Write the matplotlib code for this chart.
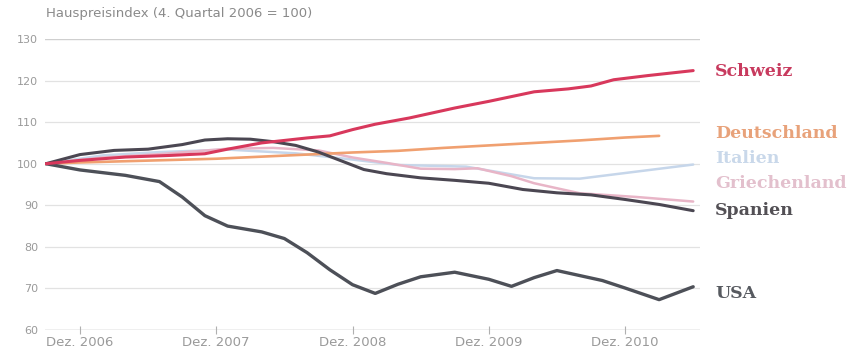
import matplotlib
matplotlib.use("Agg")
import matplotlib.pyplot as plt
import matplotlib.transforms as mtransforms

# x = months relative to Dez. 2006, y = Hauspreisindex (Q4 2006 = 100)
TICK_MONTHS = [0, 12, 24, 36, 48]
TICK_LABELS = ["Dez. 2006", "Dez. 2007", "Dez. 2008", "Dez. 2009", "Dez. 2010"]
Y_TICKS = [60, 70, 80, 90, 100, 110, 120, 130]

italien_m = [-3, 2, 7, 13, 19, 24, 28, 34, 40, 44, 49, 54]
italien_v = [100, 102, 102.8, 103.4, 102.5, 101, 99.7, 99.3, 96.5, 96.4, 98.1, 99.8]

griechenland_m = [-3, 2, 7, 13, 17, 21, 24, 27, 30, 33, 35, 38, 40, 44, 49, 54]
griechenland_v = [100, 101.5, 102.3, 103.6, 103.8, 103.2, 101.5, 100.2, 98.8, 98.7, 98.9, 97.0, 95.3, 92.9, 92.0, 90.9]

deutschland_m = [-3, 0, 4, 8, 12, 16, 20, 24, 28, 32, 36, 40, 44, 48, 51]
deutschland_v = [100, 100.3, 100.6, 100.9, 101.2, 101.7, 102.2, 102.7, 103.1, 103.8, 104.4, 105.0, 105.6, 106.3, 106.7]

spanien_m = [-3, 0, 3, 6, 9, 11, 13, 15, 17, 19, 21, 23, 25, 27, 30, 33, 36, 39, 42, 45, 48, 51, 54]
spanien_v = [100, 102.2, 103.2, 103.5, 104.6, 105.7, 106, 105.9, 105.3, 104.4, 102.8, 100.7, 98.6,
             97.6, 96.6, 96.0, 95.3, 93.8, 93.0, 92.5, 91.4, 90.2, 88.7]

usa_m = [-3, 0, 4, 7, 9, 11, 13, 16, 18, 20, 22, 24, 26, 28, 30, 33, 36, 38, 40, 42, 44, 46, 48, 51, 54]
usa_v = [100, 98.5, 97.2, 95.7, 92, 87.5, 85, 83.6, 82, 78.6, 74.5, 70.9, 68.8, 71, 72.8, 73.9,
         72.2, 70.5, 72.6, 74.3, 73.1, 71.9, 70.1, 67.3, 70.4]

schweiz_m = [-3, 0, 4, 8, 11, 13, 16, 20, 22, 24, 26, 29, 33, 36, 40, 43, 45, 47, 50, 54]
schweiz_v = [100, 100.8, 101.6, 102, 102.4, 103.5, 105, 106.2, 106.7, 108.2, 109.5, 111, 113.4,
             115, 117.3, 118, 118.7, 120.2, 121.2, 122.4]

# (name, months, values, line colour, label colour, linewidth, label y)
SERIES = [
    ("Italien", italien_m, italien_v, "#c6d6ea", "#c9d8ea", 1.8, 101.3),
    ("Griechenland", griechenland_m, griechenland_v, "#e8b5c7", "#e3c0cd", 1.8, 95.2),
    ("Deutschland", deutschland_m, deutschland_v, "#f0a070", "#e8a27a", 1.9, 107.3),
    ("Spanien", spanien_m, spanien_v, "#4b4752", "#535055", 2.2, 88.8),
    ("USA", usa_m, usa_v, "#4d5058", "#575a60", 2.4, 68.9),
    ("Schweiz", schweiz_m, schweiz_v, "#d8385c", "#c83a5e", 2.2, 122.2),
]

fig = plt.figure(figsize=(8.66, 3.56), dpi=100)
ax = fig.add_axes([45 / 866, 26 / 356, 655 / 866, 291 / 356])
ax.set_xlim(-3.08, 54.6)
ax.set_ylim(60, 130)

for y in Y_TICKS[1:]:
    ax.axhline(y, color="#e2e2e2", lw=0.9, zorder=0)
ax.axhline(130, color="#cfcfcf", lw=0.9, zorder=0)
ax.axhline(60, color="#b0b0b0", lw=1.0, zorder=1)

lbl_tr = mtransforms.blended_transform_factory(ax.transAxes, ax.transData)
for name, m, v, col, lcol, lw, ly in SERIES:
    ax.plot(m, v, color=col, lw=lw, solid_capstyle="round", solid_joinstyle="round", zorder=3)
    ax.text(1.023, ly, name, transform=lbl_tr, color=lcol, fontsize=12.5,
            family="DejaVu Serif", fontweight="bold", va="center", ha="left", clip_on=False)

for s in ax.spines.values():
    s.set_visible(False)

ax.set_xticks(TICK_MONTHS)
ax.set_xticklabels(TICK_LABELS, fontsize=9.5, color="#9a9a9a")
ax.tick_params(axis="x", direction="inout", length=6, width=0.8, color="#b0b0b0", pad=1)
ax.set_yticks(Y_TICKS)
ax.set_yticklabels([str(y) for y in Y_TICKS], fontsize=8, color="#9a9a9a")
ax.tick_params(axis="y", length=0, pad=5)

fig.text(46 / 866, 1 - 14 / 356, "Hauspreisindex (4. Quartal 2006 = 100)", fontsize=9.5,
         color="#8a8a8a", va="center", ha="left")

fig.savefig("out.png", dpi=100)
